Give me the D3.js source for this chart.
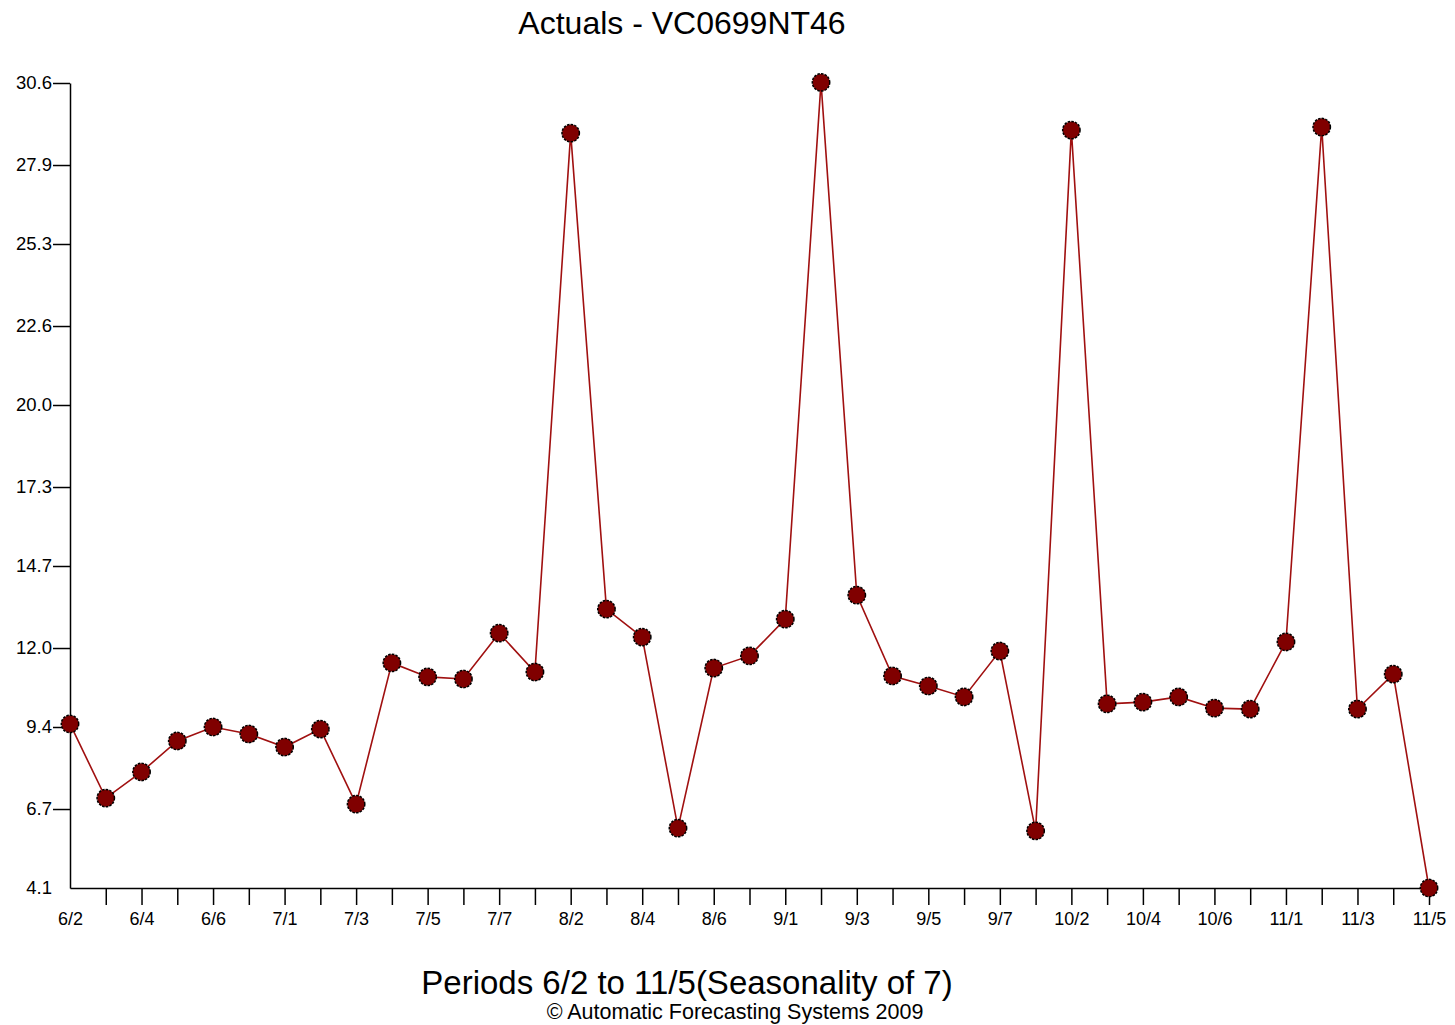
<!DOCTYPE html>
<html>
<head>
<meta charset="utf-8">
<script src="https://cdn.jsdelivr.net/npm/d3@7"></script>
<style>
  body { margin: 0; background: #fff; }
  svg text { font-family: "Liberation Sans", Arial, sans-serif; fill: #000; }
</style>
</head>
<body>
<div id="chart"></div>
<script>
'use strict';

// Data
const periods = ['6/2','6/3','6/4','6/5','6/6','6/7',
  '7/1','7/2','7/3','7/4','7/5','7/6','7/7',
  '8/1','8/2','8/3','8/4','8/5','8/6','8/7',
  '9/1','9/2','9/3','9/4','9/5','9/6','9/7',
  '10/1','10/2','10/3','10/4','10/5','10/6','10/7',
  '11/1','11/2','11/3','11/4','11/5'];
const actuals = [9.50, 7.06, 7.92, 8.94, 9.40, 9.17,
  8.74, 9.33, 6.86, 11.51, 11.05, 10.98, 12.49,
  11.21, 28.95, 13.28, 12.36, 6.07, 11.34, 11.74,
  12.95, 30.62, 13.74, 11.08, 10.75, 10.39, 11.90,
  5.98, 29.05, 10.16, 10.22, 10.39, 10.02, 9.99,
  12.20, 29.15, 9.99, 11.14, 4.10];
const yTicks = [4.1, 6.7, 9.4, 12.0, 14.7, 17.3, 20.0, 22.6, 25.3, 27.9, 30.6];

const W = 1455, H = 1025;
const margin = {top: 83, right: 26, bottom: 137, left: 70};
const width = W - margin.left - margin.right, height = H - margin.top - margin.bottom;

const svg = d3.select('#chart').append('svg')
    .attr('width', W)
    .attr('height', H);

const g = svg.append('g')
    .attr('transform', `translate(${margin.left},${margin.top})`);

const xScale = d3.scalePoint().domain(periods).range([0, width]);
const yScale = d3.scaleLinear().domain([4.1, 30.6]).range([height, 0]);

// y axis
const yAxis = g.append('g')
    .call(d3.axisLeft(yScale).tickValues(yTicks).tickFormat(d3.format('.1f')).tickSize(17).tickSizeOuter(0));
yAxis.select('.domain').attr('stroke', '#000').attr('stroke-width', 1.5);
yAxis.selectAll('.tick line').attr('stroke', '#000').attr('stroke-width', 1.5);
yAxis.selectAll('.tick text')
    .attr('x', -18)
    .attr('fill', '#111')
    .style('font-size', '18.5px')
    .style('font-family', '"Liberation Sans", Arial, sans-serif');
// the bottom tick has no tick mark
yAxis.selectAll('.tick').filter(d => d === 4.1).select('line').remove();

// x axis
const xAxis = g.append('g')
    .attr('transform', `translate(0,${height})`)
    .call(d3.axisBottom(xScale).tickSize(17).tickSizeOuter(0)
        .tickFormat((d, i) => i % 2 === 0 ? d : ''));
xAxis.select('.domain').attr('stroke', '#000').attr('stroke-width', 1.5);
xAxis.selectAll('.tick line').attr('stroke', '#000').attr('stroke-width', 1.5);
xAxis.selectAll('.tick').filter(d => d === periods[0]).select('line').remove();
xAxis.selectAll('.tick text')
    .attr('y', 24)
    .attr('fill', '#111')
    .style('font-size', '18px')
    .style('font-family', '"Liberation Sans", Arial, sans-serif');

// line
const line = d3.line()
    .x((d, i) => xScale(periods[i]))
    .y(d => yScale(d));

g.append('path')
    .datum(actuals)
    .attr('fill', 'none')
    .attr('stroke', '#a01010')
    .attr('stroke-width', 1.6)
    .attr('d', line);

// markers
g.selectAll('circle.pt')
  .data(actuals)
  .join('circle')
    .attr('class', 'pt')
    .attr('cx', (d, i) => xScale(periods[i]))
    .attr('cy', d => yScale(d))
    .attr('r', 8.7)
    .attr('fill', '#800000')
    .attr('stroke', '#000')
    .attr('stroke-width', 1.5)
    .attr('stroke-dasharray', '2.5,1.2');

// titles
svg.append('text')
    .attr('x', 682)
    .attr('y', 34)
    .attr('text-anchor', 'middle')
    .style('font-size', '32px')
    .text('Actuals - VC0699NT46');

svg.append('text')
    .attr('x', 687)
    .attr('y', 994)
    .attr('text-anchor', 'middle')
    .style('font-size', '33px')
    .text('Periods 6/2 to 11/5(Seasonality of 7)');

svg.append('text')
    .attr('x', 735)
    .attr('y', 1019)
    .attr('text-anchor', 'middle')
    .style('font-size', '21.5px')
    .text('\u00A9 Automatic Forecasting Systems 2009');
</script>
</body>
</html>
